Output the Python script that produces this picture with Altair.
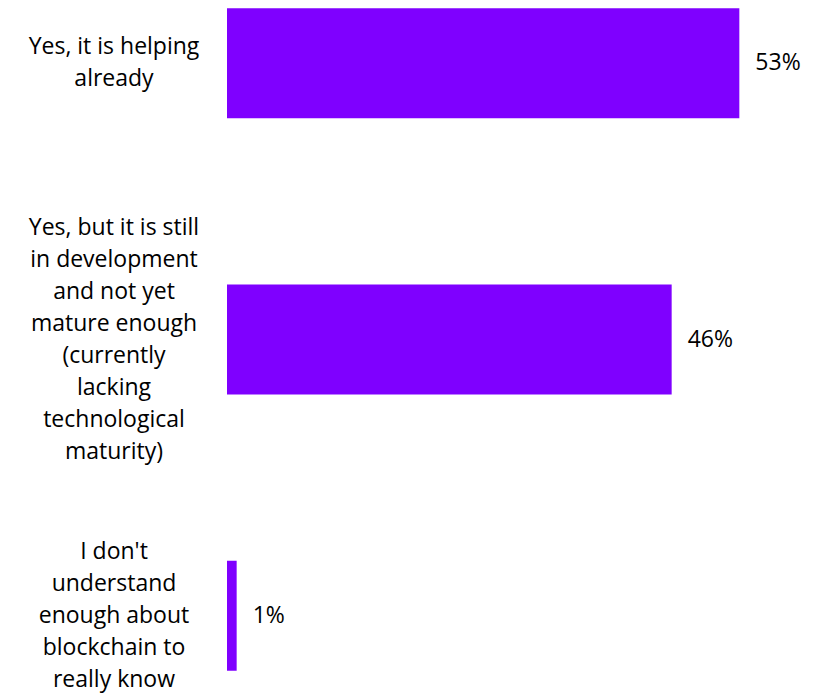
import altair as alt
import pandas as pd

categories = [
    "Yes, it is helping\nalready",
    "Yes, but it is still\nin development\nand not yet\nmature enough\n(currently\nlacking\ntechnological\nmaturity)",
    "I don't\nunderstand\nenough about\nblockchain to\nreally know",
]
values = [53, 46, 1]
value_labels = ["53%", "46%", "1%"]

df = pd.DataFrame({"cat": categories, "val": values, "lab": value_labels})

FONT = "Open Sans"
FS = 23
LH = 32

y_enc = alt.Y("cat:N", sort=categories, axis=None,
              scale=alt.Scale(paddingInner=0.602, paddingOuter=0.03))
x_enc = alt.X("val:Q", axis=None, scale=alt.Scale(domain=[0, 60]))

bars = alt.Chart(df).mark_bar(color="#7F00FF").encode(x=x_enc, y=y_enc)

vals = alt.Chart(df).mark_text(align="left", baseline="middle", dx=16,
                               font=FONT, fontSize=FS, color="#000000").encode(
    x=x_enc, y=y_enc, text="lab:N")

cat_layers = []
for c in categories:
    n = c.count("\n") + 1
    cat_layers.append(
        alt.Chart(df).transform_filter(alt.datum.cat == c).mark_text(
            align="center", baseline="middle", lineBreak="\n", lineHeight=LH,
            font=FONT, fontSize=FS, color="#000000", dy=-(n - 1) * LH / 2,
        ).encode(x=alt.value(-113), y=y_enc, text="cat:N")
    )

chart = alt.layer(bars, vals, *cat_layers).properties(
    width=580, height=679,
    autosize=alt.AutoSizeParams(type="none"),
    padding={"left": 227, "top": 0, "right": 24, "bottom": 14},
    background="#ffffff",
).configure_view(stroke=None)

chart.save("out.html", embed_options={"renderer": "svg", "actions": False})
